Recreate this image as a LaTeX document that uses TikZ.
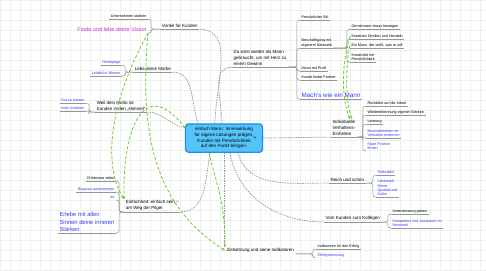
\documentclass[tikz,border=0pt]{standalone}
\usepackage{fontspec}
\setmainfont{Liberation Sans}
\usetikzlibrary{arrows.meta}
\definecolor{coreFill}{RGB}{84,196,250}
\definecolor{coreDraw}{RGB}{33,140,232}
\definecolor{linkBlue}{RGB}{52,62,240}
\definecolor{visionPink}{RGB}{214,44,206}
\definecolor{relGreen}{RGB}{112,200,52}
\definecolor{lineGray}{RGB}{150,150,150}
\definecolor{gridTint}{RGB}{236,241,233}

\begin{document}
\begin{tikzpicture}[x=1pt, y=1pt,
  topic/.style={anchor=south west, align=left, inner xsep=1.5pt, inner ysep=1.2pt,
    font=\fontsize{4.5}{6}\selectfont},
  leaf/.style={anchor=south west, align=left, inner xsep=1.5pt, inner ysep=1pt,
    font=\fontsize{3.7}{4.3}\selectfont},
  leafL/.style={leaf, anchor=south east},
  weblink/.style={text=linkBlue},
  big/.style={font=\fontsize{5.8}{7.5}\selectfont},
  link/.style={draw=lineGray, line width=0.7pt, dash pattern=on 1.5pt off 1pt},
  brace/.style={draw=lineGray, line width=0.5pt, rounded corners=2.5pt},
  uline/.style={draw=lineGray, line width=0.8pt},
  rel/.style={draw=relGreen, line width=0.8pt, dash pattern=on 3pt off 2pt,
    -{Stealth[length=3pt, width=2.6pt]}}]
  % canvas
  \fill[white] (0,0) rectangle (486,270);
  \draw[gridTint, step=10pt] (0,0) grid (486,270);
  \useasboundingbox (0,0) rectangle (486,270);

  % centre
  \node[draw=coreDraw, fill=coreFill, line width=1.2pt, rounded corners=3pt,
    minimum width=77pt, minimum height=28pt, align=center,
    font=\fontsize{4.6}{5.8}\selectfont] (core) at (224,132)
    {einfach Mann: Innenwirkung\\für eigene Lösungen prägen,\\Kunden mit Persönlichkeit\\auf den Punkt bringen.};
  \node[font=\fontsize{5}{5}\selectfont, inner sep=0pt] (coreplus) at (255,132) {+};

  % main topics
  \node[topic] (vorteil) at (160,241) {Vorteil für Kunden};
  \node[topic] (marke) at (133,198) {Lebe deine Marke};
  \node[topic] (motto) at (95,158) {Weil dein Motto ist:\\Kunden in den „Himmel“};
  \node[topic] (pilger) at (124,58) {Einfachheit: einfach sein –\\am Weg der Pilger};
  \node[topic] (ziel) at (225,16) {Zielsetzung und seine Indikatoren};
  \node[topic] (reich) at (329,87) {Reich und schön};
  \node[topic] (kollege) at (324,48) {Vom Kunden zum Kollegen};
  \node[topic] (indiv) at (331,133) {Individuelle\\Verhaltens-\\Einheiten};
  \node[topic] (mann) at (232,203) {Du wirst wieder als Mann\\gebraucht, um mit Herz zu\\einem Gewinn};

  % sub-topics, left side
  \node[leafL] (v1) at (148,251) {Unternehmen stärken};
  \node[leafL, text=visionPink, font=\fontsize{5.6}{6.5}\selectfont] (vision) at (148,237)
    {Finde und lebe deine Vision};
  \node[leafL, weblink] (web) at (122,205) {Homepage};
  \node[leafL, weblink] (worte) at (122,194) {Leitbild in Worten};
  \node[leafL, weblink] (wissen) at (86,167) {Gut zu wissen};
  \node[leafL, weblink] (mehr) at (86,159) {mehr erfahren};
  \node[leafL] (erleb) at (116,89) {Erlebnisse teilen};
  \node[leafL, weblink] (bewusst) at (116,78) {Bewusst wahrnehmen};
  \node[leafL, weblink] (es) at (116,70) {es};
  \node[leafL, weblink, big] (sinne) at (116,37) {Erlebe mit allen\\Sinnen deine inneren\\Stärken};

  % sub-topics, right side
  \node[leaf] (ind1) at (316,21) {Indikatoren für den Erfolg};
  \node[leaf, weblink] (ind2) at (316,12) {Erfolgsmessung};
  \node[leaf, weblink] (selbst) at (376,95) {Selbstbild};
  \node[leaf, weblink] (stil) at (376,73) {Lebensstil\\Werte\\Qualität und\\Kultur};
  \node[leaf] (hilfe) at (391,56) {Unterstützung geben};
  \node[leaf, weblink] (netz) at (391,42) {Kompetenz und Austausch im\\Netzwerk};
  \node[leaf] (rueck) at (366,164) {Rückblick auf die Arbeit};
  \node[leaf] (staerke) at (366,155) {Wiedererkennung eigener Stärken};
  \node[leaf] (leist) at (366,146) {Leistung};
  \node[leaf, weblink] (verh) at (366,132) {Besonderheiten im\\Verhalten erkennen};
  \node[leaf, weblink] (posi) at (366,119) {Klare Position\\finden};
  \node[leaf] (stilp) at (300,250) {Persönlicher Stil};
  \node[leaf] (kontakt) at (300,222) {Beschäftigung mit\\eigenem Netzwerk};
  \node[leaf] (bewegen) at (350,241) {Gemeinsam etwas bewegen};
  \node[leaf] (kreativ) at (350,231) {Kreatives Denken und Handeln};
  \node[leaf] (wille) at (350,222) {Ein Mann, der weiß, was er will};
  \node[leaf] (pers) at (350,208) {Kreativität mit\\Persönlichkeit};
  \node[leaf] (profil) at (300,199) {Mann mit Profil};
  \node[leaf] (partner) at (300,190) {Kunde findet Partner};
  \node[leaf, weblink, font=\fontsize{6.3}{7}\selectfont] (wie) at (300,171) {Mach's wie ein Mann};

  % underlines
  \foreach \n in {vorteil, marke, motto, pilger, reich, kollege, indiv, mann,
      v1, web, worte, wissen, mehr, erleb, bewusst, sinne, ind1, selbst, stil, hilfe, netz,
      rueck, staerke, leist, verh, stilp, kontakt, bewegen, kreativ, wille, pers,
      profil, partner, wie}
    \draw[uline] (\n.south west) -- (\n.south east);

  % brackets
  \foreach \p/\c in {vorteil/v1, vorteil/vision, marke/web, marke/worte,
      motto/wissen, motto/mehr, pilger/erleb, pilger/bewusst, pilger/es, pilger/sinne}
    \draw[brace] (\p.south west) -| ([xshift=3pt]\c.south east) -- (\c.south east);
  \foreach \p/\c in {ziel/ind1, ziel/ind2, reich/selbst, reich/stil, kollege/hilfe, kollege/netz,
      indiv/rueck, indiv/staerke, indiv/leist, indiv/verh, indiv/posi,
      mann/stilp, mann/kontakt, mann/profil, mann/partner, mann/wie,
      kontakt/bewegen, kontakt/kreativ, kontakt/wille, kontakt/pers}
    \draw[brace] (\p.south east) -| ([xshift=-3pt]\c.south west) -- (\c.south west);

  % connectors from the centre
  \draw[link] ([xshift=-9pt]core.north) to[out=90, in=0] (vorteil.south east);
  \draw[link] ([xshift=-26pt]core.north) to[out=110, in=0] (marke.south east);
  \draw[link] (core.165) to[out=170, in=0] (motto.south east);
  \draw[link] ([xshift=-14pt]core.south) to[out=-100, in=0] (pilger.south east);
  \draw[link] (core.south) -- (core.south |- ziel.north);
  \draw[link] ([xshift=14pt]core.south) to[out=-75, in=180] (reich.south west);
  \draw[link] ([xshift=6pt]core.south) to[out=-80, in=180] (kollege.south west);
  \draw[link] (core.east) -- (indiv.south west);
  \draw[link] ([xshift=-2pt]core.north) to[out=90, in=180] (mann.south west);

  % relations
  \draw[rel] (vision.south east) .. controls (105,160) and (105,100) .. (pilger.north west);
  \draw[rel] (vision.south east) .. controls (136,110) and (170,55) .. (ziel.west);
  \draw[rel] (core.165) .. controls (140,200) and (122,130) .. (pilger.north west);
  \draw[rel] ([xshift=-15pt]core.south) .. controls (215,90) and (225,70) .. (ziel.north west);
  \draw[rel] (kreativ.west) .. controls (340,200) and (343,168) .. ([xshift=6pt]indiv.north);
  \draw[rel] (wille.west) .. controls (345,200) and (346,168) .. ([xshift=8pt]indiv.north);
\end{tikzpicture}
\end{document}
